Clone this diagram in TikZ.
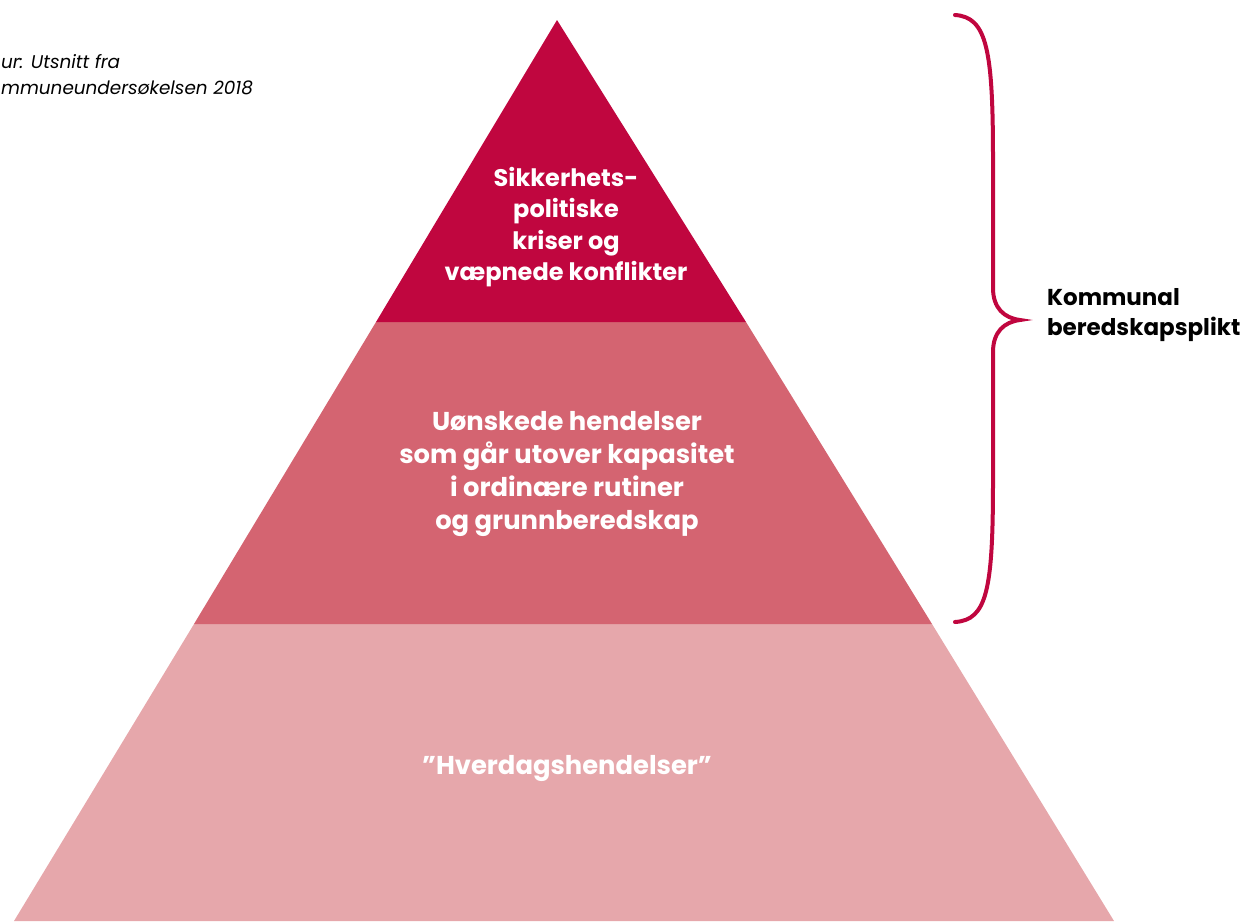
\documentclass[tikz,border=0pt]{standalone}
\usepackage{fontspec}
\setmainfont{Poppins}
\definecolor{topc}{HTML}{C0063F}
\definecolor{midc}{HTML}{D46471}
\definecolor{botc}{HTML}{E6A7AB}
\begin{document}
\begin{tikzpicture}[x=0.5pt,y=-0.5pt,
  lvl/.style={align=center,text=white,font=\fontsize{12}{15.6}\selectfont\bfseries},
  lvlb/.style={align=center,text=white,font=\fontsize{12.9}{16.5}\selectfont\bfseries},
  note/.style={anchor=west,align=left,font=\fontsize{9.2}{13}\selectfont\itshape},
  side/.style={anchor=west,align=left,font=\fontsize{11.5}{15}\selectfont\bfseries}]
\useasboundingbox (0,0) rectangle (1247,921);
\clip (0,0) rectangle (1247,921);
% pyramid levels
\fill[botc] (194,624) -- (932,624) -- (1114,921) -- (14,921) -- cycle;
\fill[midc] (376,322) -- (746,322) -- (932,624) -- (194,624) -- cycle;
\fill[topc] (557,20) -- (746,322) -- (376,322) -- cycle;
% texts
\node[lvl] (t1) at (566,227) {Sikkerhets-\\politiske\\kriser og\\væpnede konflikter};
\node[lvlb] (t2) at (567,474) {Uønskede hendelser\\som går utover kapasitet\\i ordinære rutiner\\og grunnberedskap};
\node[lvlb] (t3) at (567,768) {”Hverdagshendelser”};
% brace
\coordinate (btop) at (955,15);
\coordinate (btip) at (1020,320);
\coordinate (bbot) at (955,622);
\draw[topc,line width=2pt,line cap=round]
  (btop) .. controls (987,17) and (993,50) .. (993,160)
  -- (993,288) .. controls (993,308) and (1004,318) .. (btip)
  .. controls (1004,322) and (993,332) .. (993,352)
  -- (993,480) .. controls (993,590) and (987,620) .. (bbot);
\node[side] (kb) at (1040,315) {Kommunal\\beredskapsplikt};
% source note
\node[note] (src) at (-6,75) {ur: Utsnitt fra\\mmuneundersøkelsen 2018};
\end{tikzpicture}
\end{document}
